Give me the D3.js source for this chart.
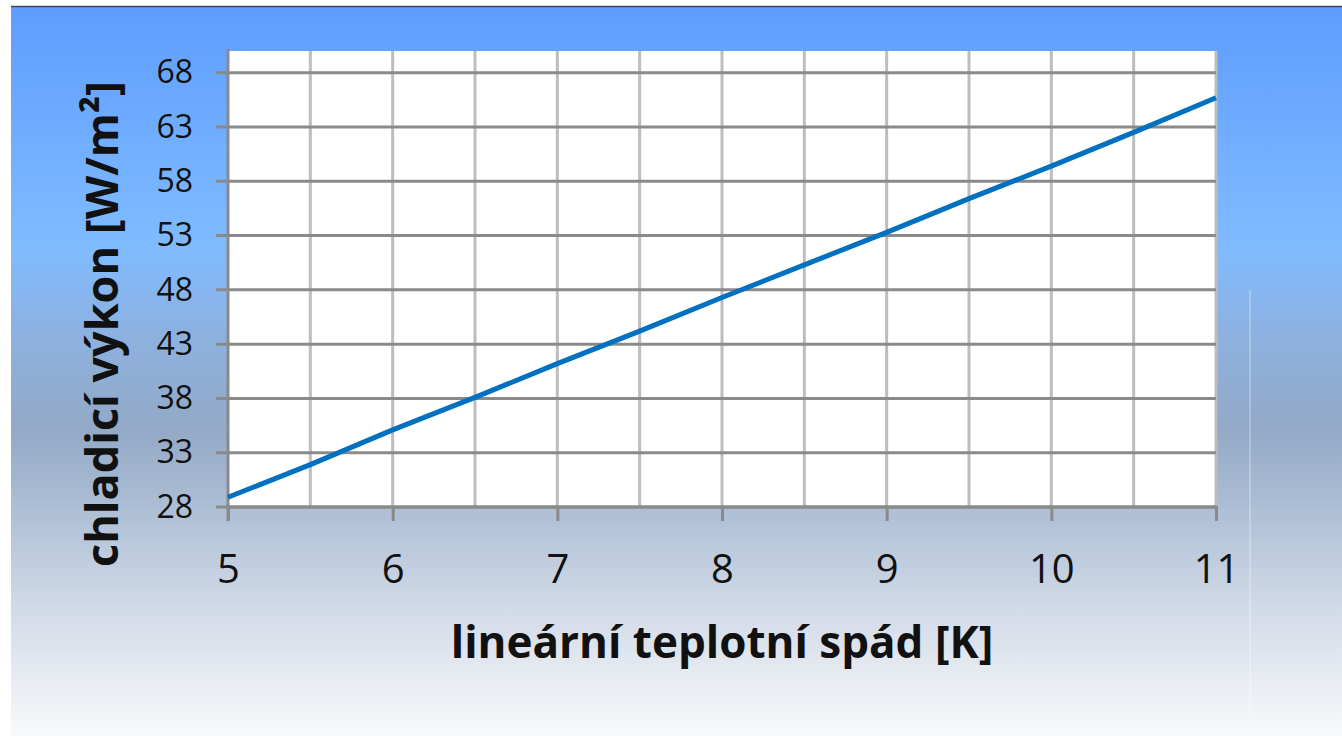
<!DOCTYPE html>
<html>
<head>
<meta charset="utf-8">
<script src="https://cdn.jsdelivr.net/npm/d3@7"></script>
<style>
  body { margin: 0; background: #fff; }
  text { font-family: "Open Sans", "Noto Sans", sans-serif; fill: #111; }
</style>
</head>
<body>
<div id="chart"></div>
<script>
// values
var spad = [5, 5.5, 6, 6.5, 7, 7.5, 8, 8.5, 9, 9.5, 10, 10.5, 11];
var vykon = [28.9, 31.9, 35.1, 38.1, 41.2, 44.2, 47.3, 50.3, 53.3, 56.4, 59.4, 62.5, 65.7];
var xTicks = [5, 6, 7, 8, 9, 10, 11];
var xGrid = [5.5, 6, 6.5, 7, 7.5, 8, 8.5, 9, 9.5, 10, 10.5, 11];
var yTicks = [28, 33, 38, 43, 48, 53, 58, 63, 68];
var xTitle = "lineární teplotní spád [K]";
var yTitle = "chladicí výkon [W/m²]";

function drawChart() {
  var width = 1342, height = 736;
  var plot = {left: 228, right: 1216, top: 51, bottom: 507};

  var svg = d3.select("#chart").append("svg").attr("width", width).attr("height", height);

  var grad = svg.append("defs").append("linearGradient").attr("id", "bg")
    .attr("x1", 0).attr("y1", 0).attr("x2", 0).attr("y2", 1);
  [[0, "#5d9dff"], [0.33, "#80bbff"], [0.45, "#8db1e0"], [0.58, "#93a9c6"],
   [0.7, "#b0c1d7"], [0.85, "#d8dfea"], [1, "#f8f9fb"]].forEach(function(s) {
    grad.append("stop").attr("offset", s[0]).attr("stop-color", s[1]);
  });

  svg.append("rect").attr("x", 11).attr("y", 7).attr("width", width - 11).attr("height", height - 7)
    .attr("fill", "url(#bg)");
  svg.append("line").attr("x1", 11).attr("x2", width).attr("y1", 6.5).attr("y2", 6.5)
    .attr("stroke", "#3d4a60").attr("stroke-width", 1.5);
  // faint reflection strip on the right
  svg.append("line").attr("x1", 1250).attr("x2", 1250).attr("y1", 290).attr("y2", height)
    .attr("stroke", "#ffffff").attr("stroke-opacity", 0.25).attr("stroke-width", 2);

  var x = d3.scaleLinear().domain([5, 11]).range([plot.left, plot.right]);
  var y = d3.scaleLinear().domain([28, 70]).range([plot.bottom, plot.top]);

  svg.append("rect").attr("x", plot.left).attr("y", plot.top)
    .attr("width", plot.right - plot.left).attr("height", plot.bottom - plot.top).attr("fill", "#fff");

  // vertical grid (light)
  svg.append("g").selectAll("line").data(xGrid).enter().append("line")
    .attr("x1", function(d) { return x(d); }).attr("x2", function(d) { return x(d); })
    .attr("y1", plot.top).attr("y2", plot.bottom)
    .attr("stroke", "#bdbdbd").attr("stroke-width", 3);

  // horizontal grid (dark) with outside ticks
  svg.append("g").selectAll("line").data(yTicks).enter().append("line")
    .attr("x1", plot.left - 12).attr("x2", plot.right)
    .attr("y1", function(d) { return y(d); }).attr("y2", function(d) { return y(d); })
    .attr("stroke", "#8a8a8a").attr("stroke-width", 3);

  // x axis
  var xAxis = svg.append("g").attr("transform", "translate(0," + plot.bottom + ")")
    .call(d3.axisBottom(x).tickValues(xTicks).tickSize(14).tickPadding(34).tickFormat(d3.format("d")));
  xAxis.select(".domain").remove();
  xAxis.selectAll(".tick line").attr("stroke", "#8a8a8a").attr("stroke-width", 3);
  xAxis.selectAll(".tick text").attr("font-size", 40).attr("fill", "#111")
    .style("font-family", "'Open Sans', sans-serif");
  svg.append("line").attr("x1", plot.left - 1.5).attr("x2", plot.right + 1.5)
    .attr("y1", plot.bottom).attr("y2", plot.bottom).attr("stroke", "#8a8a8a").attr("stroke-width", 3);

  // y axis
  var yAxis = svg.append("g").attr("transform", "translate(" + plot.left + ",0)")
    .call(d3.axisLeft(y).tickValues(yTicks).tickSize(0).tickPadding(35).tickFormat(d3.format("d")));
  yAxis.select(".domain").remove();
  yAxis.selectAll(".tick text").attr("font-size", 32).attr("fill", "#111")
    .style("font-family", "'Open Sans', sans-serif");
  svg.append("line").attr("x1", plot.left).attr("x2", plot.left)
    .attr("y1", plot.top - 2).attr("y2", plot.bottom + 14).attr("stroke", "#8a8a8a").attr("stroke-width", 3);

  // the series
  var line = d3.line().x(function(d, i) { return x(spad[i]); }).y(function(d) { return y(d); });
  svg.append("path").datum(vykon).attr("d", line).attr("fill", "none")
    .attr("stroke", "#0070c0").attr("stroke-width", 5).attr("stroke-linejoin", "round");

  svg.append("text").attr("x", 722).attr("y", 658).attr("text-anchor", "middle")
    .attr("font-size", 44).attr("font-weight", "bold").text(xTitle);

  svg.append("text").attr("transform", "translate(118,324) rotate(-90)").attr("text-anchor", "middle")
    .attr("font-size", 45).attr("font-weight", "bold").text(yTitle);
}

drawChart();
</script>
</body>
</html>
